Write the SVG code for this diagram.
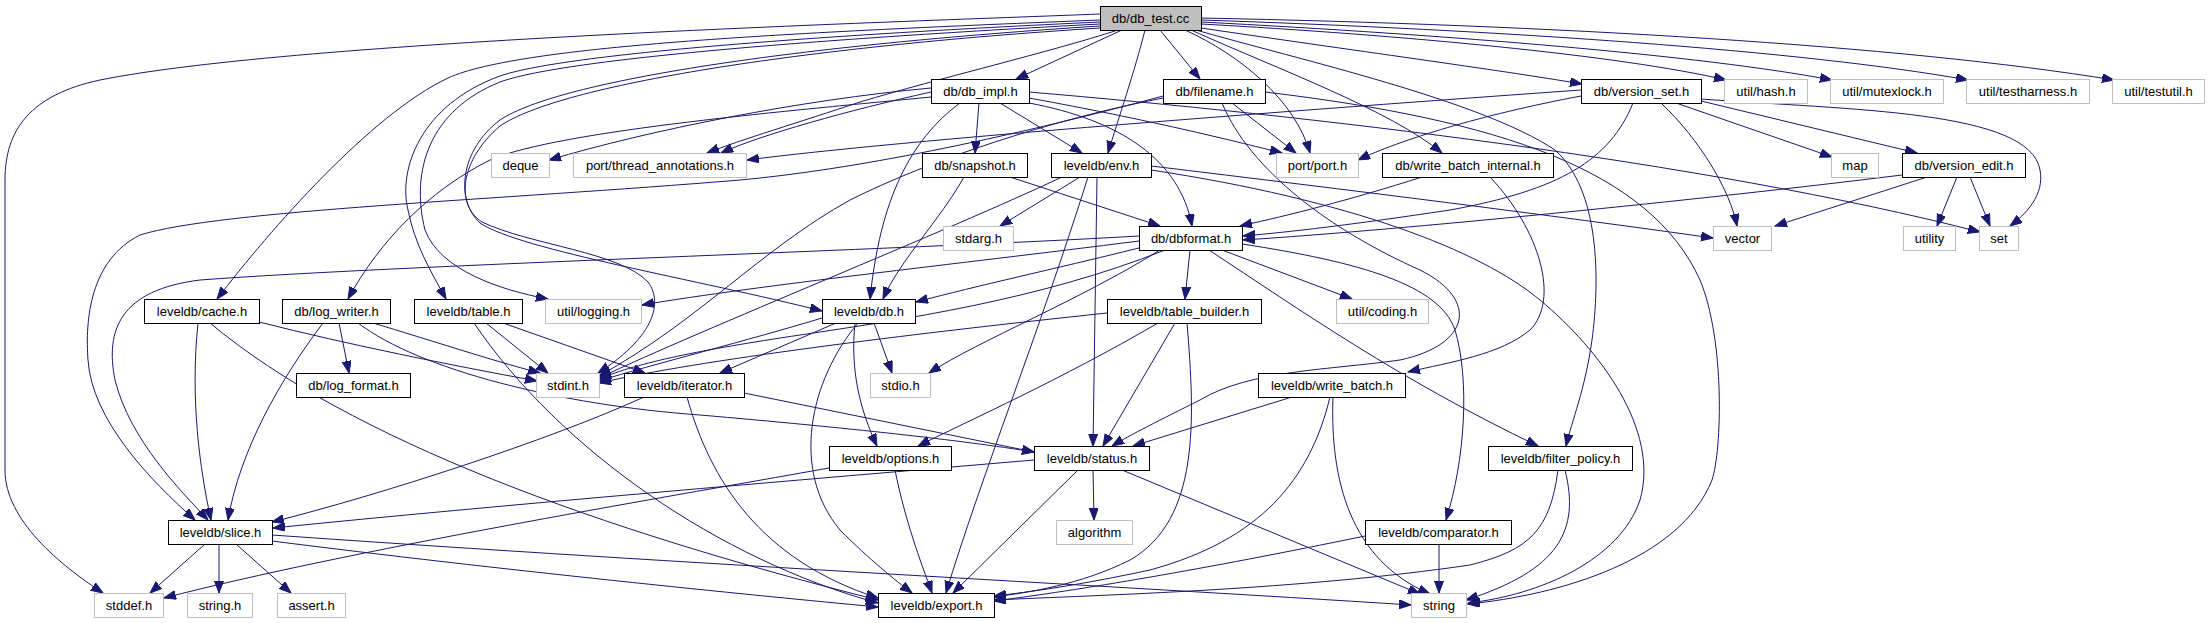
<svg xmlns="http://www.w3.org/2000/svg" width="2210" height="623" viewBox="0 0 2210 623">
<style>
rect{stroke-width:1}
.n rect{fill:#ffffff;stroke:#000000}
.g rect{fill:#ffffff;stroke:#bfbfbf}
.r rect{fill:#bfbfbf;stroke:#000000}
text{font-family:"Liberation Sans",Arial,sans-serif;font-size:13px;text-anchor:middle;fill:#000000}
#edges path{fill:none;stroke:#191970;stroke-width:1;marker-end:url(#ah)}
</style>
<defs>
<marker id="ah" markerUnits="userSpaceOnUse" markerWidth="14" markerHeight="10" refX="12" refY="4.5" orient="auto">
<path d="M0,0 L12,4.5 L0,9 z" fill="#191970" stroke="#191970" stroke-width="1"/>
</marker>
</defs>
<rect x="0" y="0" width="2210" height="623" fill="#ffffff"/>
<g id="edges">
<!-- db_test.cc -->
<path d="M1100,14 C 900,22 300,40 100,80 C 30,95 5,130 5,180 L 5,470 C 5,520 60,565 103,593"/>
<path d="M1100,20 C 800,32 520,45 448,78 C 370,115 270,230 217,299"/>
<path d="M1100,22 C 800,36 560,55 500,76 C 420,105 398,170 408,210 C 415,245 430,270 446,299"/>
<path d="M1100,24 C 800,40 560,60 500,82 C 430,110 410,170 425,230 C 440,270 500,290 548,299"/>
<path d="M1100,26 C 800,45 560,80 500,120 C 460,150 455,200 480,223 C 520,250 700,280 822,311"/>
<path d="M1100,28 C 800,47 560,85 500,126 C 460,160 455,205 482,222 C 530,245 620,252 648,282 C 665,305 650,340 598,373"/>
<path d="M1118,30 C 1050,52 940,78 860,102 C 800,122 740,140 707,153"/>
<path d="M1122,30 L 1016,79"/>
<path d="M1145,30 C 1135,70 1118,120 1108,153"/>
<path d="M1160,30 L 1200,79"/>
<path d="M1185,30 C 1240,55 1295,100 1310,153"/>
<path d="M1191,30 C 1280,70 1390,110 1442,153"/>
<path d="M1201,28 C 1350,50 1500,70 1582,84"/>
<path d="M1201,24 C 1400,35 1620,55 1726,80"/>
<path d="M1201,22 C 1450,35 1700,55 1832,80"/>
<path d="M1201,20 C 1500,30 1800,50 1968,80"/>
<path d="M1201,18 C 1550,25 1900,45 2114,80"/>
<path d="M1196,30 C 1300,60 1480,100 1555,150 C 1600,190 1600,280 1592,340 C 1585,390 1572,420 1566,446"/>
<!-- db_impl.h -->
<path d="M931,88 C 800,100 650,130 549,160"/>
<path d="M931,92 C 850,110 760,135 721,153"/>
<path d="M931,97 C 800,110 560,130 490,160 C 430,190 380,240 348,299"/>
<path d="M979,103 L 975,153"/>
<path d="M1000,103 L 1082,153"/>
<path d="M960,103 C 910,140 880,200 870,299"/>
<path d="M1029,103 C 1120,120 1180,160 1192,226"/>
<path d="M1029,98 C 1150,120 1230,140 1282,153"/>
<path d="M1029,92 C 1300,115 1700,160 1980,232"/>
<!-- db/filename.h -->
<path d="M1232,103 L 1296,153"/>
<path d="M1265,92 C 1500,120 1650,170 1700,280 C 1725,340 1722,450 1712,480 C 1680,560 1560,595 1468,604"/>
<path d="M1222,103 C 1250,170 1330,230 1420,270 C 1480,300 1470,345 1400,360 C 1330,370 1250,370 1200,400 C 1160,420 1130,435 1112,446"/>
<path d="M1163,98 C 1050,120 930,160 850,200 C 760,250 700,320 599,376"/>
<path d="M1163,96 C 1000,140 850,170 740,180 C 500,200 220,210 140,235 C 90,260 85,320 88,360 C 92,420 150,480 195,520"/>
<!-- db/version_set.h -->
<path d="M1581,90 C 1300,110 900,140 747,160"/>
<path d="M1581,96 C 1480,115 1400,140 1358,160"/>
<path d="M1633,103 C 1610,160 1560,190 1450,210 C 1350,225 1290,232 1243,236"/>
<path d="M1661,103 C 1700,140 1730,190 1737,226"/>
<path d="M1676,103 L 1832,157"/>
<path d="M1701,101 L 1917,153"/>
<path d="M1701,99 C 1850,110 2030,110 2040,170 C 2045,195 2025,215 2010,226"/>
<!-- db/snapshot.h -->
<path d="M1010,177 L 1160,226"/>
<path d="M964,177 C 940,220 900,260 883,299"/>
<!-- leveldb/env.h -->
<path d="M1080,177 L 1000,226"/>
<path d="M1062,177 C 950,230 700,330 599,378"/>
<path d="M1088,177 C 1040,330 980,480 946,593"/>
<path d="M1097,177 L 1093,446"/>
<path d="M1151,166 C 1350,190 1550,215 1713,238"/>
<path d="M1151,170 C 1350,200 1480,250 1540,300 C 1600,350 1660,430 1640,500 C 1620,560 1540,595 1468,603"/>
<!-- db/write_batch_internal.h -->
<path d="M1422,177 C 1350,200 1290,215 1240,226"/>
<path d="M1490,177 C 1540,230 1560,300 1530,330 C 1500,355 1450,362 1408,372"/>
<!-- db/version_edit.h -->
<path d="M1902,175 C 1700,200 1400,230 1243,240"/>
<path d="M1927,177 L 1775,226"/>
<path d="M1957,177 L 1937,226"/>
<path d="M1970,177 L 1990,226"/>
<!-- db/dbformat.h -->
<path d="M1139,236 C 900,250 400,265 200,280 C 120,290 105,330 115,380 C 130,440 180,490 208,520"/>
<path d="M1139,241 C 950,265 760,285 642,305"/>
<path d="M1139,248 C 1050,270 980,285 916,302"/>
<path d="M1165,250 C 1040,300 900,320 800,335 C 700,350 640,362 599,379"/>
<path d="M1160,250 C 1080,300 980,340 929,373"/>
<path d="M1190,250 L 1185,299"/>
<path d="M1222,250 L 1352,299"/>
<path d="M1209,250 C 1300,310 1400,380 1538,446"/>
<path d="M1242,244 C 1360,262 1440,285 1455,330 C 1470,380 1465,460 1446,520"/>
<!-- leveldb/cache.h -->
<path d="M259,322 C 350,345 450,365 537,381"/>
<path d="M198,323 C 190,400 200,470 211,520"/>
<path d="M210,323 C 350,440 600,530 878,600"/>
<!-- db/log_writer.h -->
<path d="M339,323 L 349,373"/>
<path d="M323,323 C 280,380 240,450 228,520"/>
<path d="M373,323 C 430,340 490,360 540,373"/>
<path d="M358,323 C 420,370 560,405 700,415 C 850,428 960,440 1034,452"/>
<!-- leveldb/table.h -->
<path d="M486,323 L 548,373"/>
<path d="M503,323 L 645,373"/>
<path d="M474,323 C 560,450 720,560 878,603"/>
<!-- leveldb/db.h -->
<path d="M822,318 C 750,340 650,365 599,381"/>
<path d="M874,323 L 892,373"/>
<path d="M858,323 C 810,380 790,470 840,530 C 870,560 895,580 912,593"/>
<path d="M836,323 L 720,373"/>
<path d="M855,323 C 850,370 860,410 877,446"/>
<!-- leveldb/table_builder.h -->
<path d="M1107,313 C 900,335 700,360 599,383"/>
<path d="M1158,323 C 1060,380 970,420 918,446"/>
<path d="M1175,323 L 1103,446"/>
<path d="M1187,323 C 1195,420 1200,520 1130,560 C 1080,585 1030,592 994,597"/>
<!-- leveldb/iterator.h -->
<path d="M644,397 C 550,440 380,495 272,522"/>
<path d="M744,393 L 1034,452"/>
<path d="M687,397 C 710,480 760,560 878,598"/>
<!-- leveldb/write_batch.h -->
<path d="M1292,397 L 1133,446"/>
<path d="M1330,397 C 1310,480 1260,540 1150,570 C 1080,585 1030,592 994,596"/>
<path d="M1333,397 C 1330,480 1350,560 1430,594"/>
<!-- leveldb/options.h -->
<path d="M829,468 C 650,500 350,550 164,598"/>
<path d="M895,470 C 905,520 920,560 932,593"/>
<!-- leveldb/status.h -->
<path d="M1034,460 C 800,480 500,505 273,528"/>
<path d="M1093,470 L 1094,520"/>
<path d="M1078,470 L 953,593"/>
<path d="M1122,470 L 1420,594"/>
<!-- leveldb/filter_policy.h -->
<path d="M1558,470 C 1550,530 1530,550 1470,565 C 1300,590 1100,595 994,600"/>
<path d="M1565,470 C 1580,530 1560,570 1466,600"/>
<!-- leveldb/slice.h -->
<path d="M205,544 L 150,593"/>
<path d="M219,544 L 219,593"/>
<path d="M236,544 L 291,593"/>
<path d="M272,541 C 500,570 750,595 878,607"/>
<path d="M272,535 C 700,565 1100,585 1411,605"/>
<!-- leveldb/comparator.h -->
<path d="M1365,536 C 1200,570 1080,590 994,601"/>
<path d="M1439,544 L 1439,593"/>
</g>
<g id="node_db_test" class="r"><rect x="1100.5" y="6.5" width="101" height="24"/><text x="1150.5" y="23">db/db_test.cc</text></g>
<g id="node_db_impl" class="n"><rect x="931.5" y="79.5" width="98" height="24"/><text x="980.5" y="96">db/db_impl.h</text></g>
<g id="node_filename" class="n"><rect x="1163.5" y="79.5" width="102" height="24"/><text x="1214.5" y="96">db/filename.h</text></g>
<g id="node_version_set" class="n"><rect x="1581.5" y="79.5" width="120" height="24"/><text x="1641.5" y="96">db/version_set.h</text></g>
<g id="node_hash" class="g"><rect x="1724.5" y="79.5" width="83" height="24"/><text x="1766" y="96">util/hash.h</text></g>
<g id="node_mutexlock" class="g"><rect x="1830.5" y="79.5" width="113" height="24"/><text x="1887" y="96">util/mutexlock.h</text></g>
<g id="node_testharness" class="g"><rect x="1966.5" y="79.5" width="123" height="24"/><text x="2028" y="96">util/testharness.h</text></g>
<g id="node_testutil" class="g"><rect x="2112.5" y="79.5" width="92" height="24"/><text x="2158.5" y="96">util/testutil.h</text></g>
<g id="node_deque" class="g"><rect x="491.5" y="153.5" width="58" height="24"/><text x="520.5" y="170">deque</text></g>
<g id="node_thread_annotations" class="g"><rect x="573.5" y="153.5" width="173" height="24"/><text x="660" y="170">port/thread_annotations.h</text></g>
<g id="node_snapshot" class="n"><rect x="922.5" y="153.5" width="105" height="24"/><text x="975" y="170">db/snapshot.h</text></g>
<g id="node_env" class="n"><rect x="1051.5" y="153.5" width="100" height="24"/><text x="1101.5" y="170">leveldb/env.h</text></g>
<g id="node_port" class="g"><rect x="1276.5" y="153.5" width="82" height="24"/><text x="1317.5" y="170">port/port.h</text></g>
<g id="node_write_batch_internal" class="n"><rect x="1382.5" y="153.5" width="171" height="24"/><text x="1468" y="170">db/write_batch_internal.h</text></g>
<g id="node_map" class="g"><rect x="1831.5" y="153.5" width="47" height="24"/><text x="1855" y="170">map</text></g>
<g id="node_version_edit" class="n"><rect x="1902.5" y="153.5" width="123" height="24"/><text x="1964" y="170">db/version_edit.h</text></g>
<g id="node_stdarg" class="g"><rect x="943.5" y="226.5" width="70" height="24"/><text x="978.5" y="243">stdarg.h</text></g>
<g id="node_dbformat" class="n"><rect x="1139.5" y="226.5" width="103" height="24"/><text x="1191" y="243">db/dbformat.h</text></g>
<g id="node_vector" class="g"><rect x="1713.5" y="226.5" width="58" height="24"/><text x="1742.5" y="243">vector</text></g>
<g id="node_utility" class="g"><rect x="1903.5" y="226.5" width="52" height="24"/><text x="1929.5" y="243">utility</text></g>
<g id="node_set" class="g"><rect x="1979.5" y="226.5" width="39" height="24"/><text x="1999" y="243">set</text></g>
<g id="node_cache" class="n"><rect x="144.5" y="299.5" width="115" height="24"/><text x="202" y="316">leveldb/cache.h</text></g>
<g id="node_log_writer" class="n"><rect x="282.5" y="299.5" width="108" height="24"/><text x="336.5" y="316">db/log_writer.h</text></g>
<g id="node_table" class="n"><rect x="414.5" y="299.5" width="108" height="24"/><text x="468.5" y="316">leveldb/table.h</text></g>
<g id="node_logging" class="g"><rect x="545.5" y="299.5" width="96" height="24"/><text x="593.5" y="316">util/logging.h</text></g>
<g id="node_db" class="n"><rect x="822.5" y="299.5" width="93" height="24"/><text x="869" y="316">leveldb/db.h</text></g>
<g id="node_table_builder" class="n"><rect x="1107.5" y="299.5" width="154" height="24"/><text x="1184.5" y="316">leveldb/table_builder.h</text></g>
<g id="node_coding" class="g"><rect x="1336.5" y="299.5" width="92" height="24"/><text x="1382.5" y="316">util/coding.h</text></g>
<g id="node_log_format" class="n"><rect x="296.5" y="373.5" width="114" height="24"/><text x="353.5" y="390">db/log_format.h</text></g>
<g id="node_stdint" class="g"><rect x="536.5" y="373.5" width="63" height="24"/><text x="568" y="390">stdint.h</text></g>
<g id="node_iterator" class="n"><rect x="624.5" y="373.5" width="120" height="24"/><text x="684.5" y="390">leveldb/iterator.h</text></g>
<g id="node_stdio" class="g"><rect x="870.5" y="373.5" width="60" height="24"/><text x="900.5" y="390">stdio.h</text></g>
<g id="node_write_batch" class="n"><rect x="1258.5" y="373.5" width="147" height="24"/><text x="1332" y="390">leveldb/write_batch.h</text></g>
<g id="node_options" class="n"><rect x="829.5" y="446.5" width="122" height="24"/><text x="890.5" y="463">leveldb/options.h</text></g>
<g id="node_status" class="n"><rect x="1034.5" y="446.5" width="115" height="24"/><text x="1092" y="463">leveldb/status.h</text></g>
<g id="node_filter_policy" class="n"><rect x="1488.5" y="446.5" width="144" height="24"/><text x="1560.5" y="463">leveldb/filter_policy.h</text></g>
<g id="node_slice" class="n"><rect x="168.5" y="520.5" width="104" height="24"/><text x="220.5" y="537">leveldb/slice.h</text></g>
<g id="node_algorithm" class="g"><rect x="1056.5" y="520.5" width="76" height="24"/><text x="1094.5" y="537">algorithm</text></g>
<g id="node_comparator" class="n"><rect x="1365.5" y="520.5" width="146" height="24"/><text x="1438.5" y="537">leveldb/comparator.h</text></g>
<g id="node_stddef" class="g"><rect x="94.5" y="593.5" width="69" height="24"/><text x="129" y="610">stddef.h</text></g>
<g id="node_string_h" class="g"><rect x="187.5" y="593.5" width="65" height="24"/><text x="220" y="610">string.h</text></g>
<g id="node_assert" class="g"><rect x="277.5" y="593.5" width="68" height="24"/><text x="311.5" y="610">assert.h</text></g>
<g id="node_export" class="n"><rect x="878.5" y="593.5" width="116" height="24"/><text x="936.5" y="610">leveldb/export.h</text></g>
<g id="node_string" class="g"><rect x="1411.5" y="593.5" width="55" height="24"/><text x="1439" y="610">string</text></g>
</svg>
